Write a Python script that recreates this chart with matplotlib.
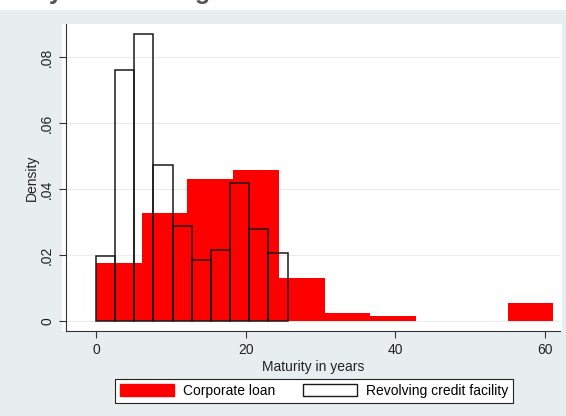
import numpy as np
import matplotlib.pyplot as plt
from matplotlib.patches import Patch, Rectangle

plt.rcParams['font.family'] = ['Liberation Sans', 'DejaVu Sans']

# histogram bins (years) and densities
corp_edges = [0, 6.11, 12.22, 18.33, 24.44, 30.55, 36.66, 42.77, 48.88, 54.99, 61.1]
corp_density = [0.0175, 0.0327, 0.0430, 0.0459, 0.0131, 0.0026, 0.0014, 0.0, 0.0, 0.0055]

rev_edges = [0, 2.56, 5.12, 7.68, 10.24, 12.8, 15.36, 17.92, 20.48, 23.04, 25.6]
rev_density = [0.0197, 0.0760, 0.0871, 0.0472, 0.0288, 0.0185, 0.0215, 0.0418, 0.0279, 0.0208]

xticks = [0, 20, 40, 60]
yticks = [0, 0.02, 0.04, 0.06, 0.08]
ytick_labels = ['0', '.02', '.04', '.06', '.08']

bg = '#e8eef0'

fig = plt.figure(figsize=(5.66, 4.16), dpi=100)
fig.patch.set_facecolor('white')
# graph region below the strip at the top
fig.patches.append(Rectangle((0, 0), 1, 406 / 416, transform=fig.transFigure,
                             facecolor=bg, edgecolor='none', zorder=-10))
# white plot region
fig.patches.append(Rectangle((62 / 566, (416 - 331) / 416), 500 / 566, 307 / 416,
                             transform=fig.transFigure, facecolor='white',
                             edgecolor='none', zorder=-9))

# title line from the page above, cut off
fig.text(-34 / 566, 1 + 1 / 416, 'Maturity and lending', fontsize=18, fontweight='bold',
         color='#555555', va='baseline', ha='left')

ax = fig.add_axes([66 / 566, (416 - 331) / 416, 494 / 566, 307 / 416])
ax.set_facecolor('none')

ce = np.array(corp_edges)
ax.bar(ce[:-1], corp_density, width=np.diff(ce), align='edge',
       color='#ff0000', edgecolor='none', linewidth=0, zorder=2)

re = np.array(rev_edges)
ax.bar(re[:-1], rev_density, width=np.diff(re), align='edge',
       facecolor='none', edgecolor='#1a1a1a', linewidth=1.1, zorder=3)

ax.set_xlim(-4, 62)
ax.set_ylim(-0.003, 0.0901)
ax.set_xticks(xticks)
ax.set_yticks(yticks)
ax.set_yticklabels(ytick_labels, rotation=90, va='center')
ax.tick_params(labelsize=10, length=5, width=0.8, color='#333333', labelcolor='#222222')
ax.grid(axis='y', color='#ececec', linewidth=0.8, zorder=0)
ax.set_axisbelow(True)

for s in ['top', 'right']:
    ax.spines[s].set_visible(False)
for s in ['left', 'bottom']:
    ax.spines[s].set_color('#333333')
    ax.spines[s].set_linewidth(0.8)

ax.set_xlabel('Maturity in years', fontsize=10, color='#222222', labelpad=2)
ax.set_ylabel('Density', fontsize=10, color='#222222', labelpad=1)

handles = [Patch(facecolor='#ff0000', edgecolor='#ff0000', label='Corporate loan'),
           Patch(facecolor='white', edgecolor='#1a1a1a', linewidth=1.0,
                 label='Revolving credit facility')]
leg = fig.legend(handles=handles, loc='center', bbox_to_anchor=(314 / 566, 25 / 416),
                 ncol=2, fontsize=10, frameon=True, fancybox=False,
                 handlelength=3.9, handleheight=1.0, handletextpad=0.65,
                 columnspacing=2.0, borderpad=0.35)
leg.get_frame().set_edgecolor('#222222')
leg.get_frame().set_linewidth(0.8)
leg.get_frame().set_facecolor('white')
leg.get_frame().set_alpha(1)

fig.savefig('out.png', dpi=100)
